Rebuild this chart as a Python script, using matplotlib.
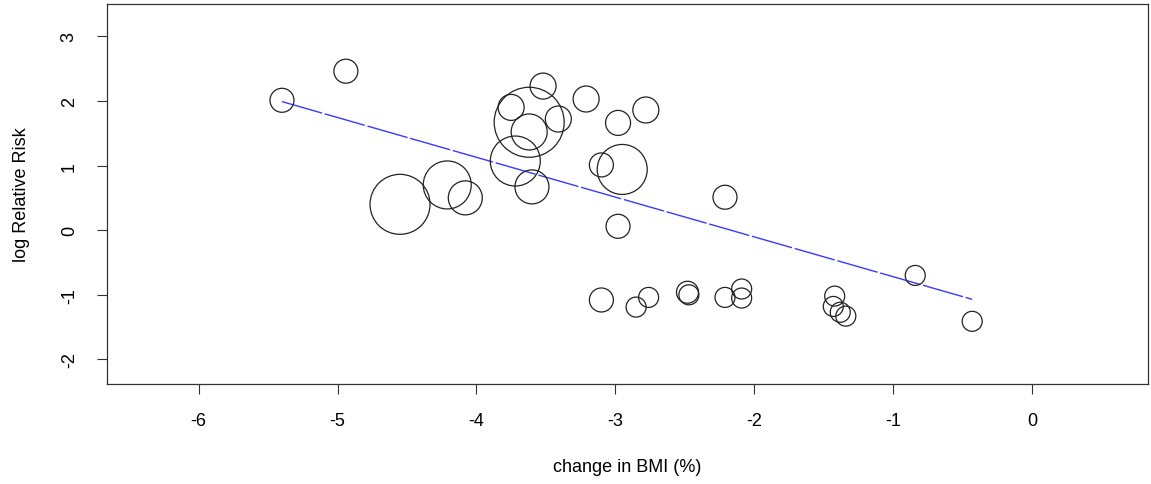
import matplotlib
matplotlib.use("Agg")
import matplotlib.pyplot as plt
import numpy as np

plt.rcParams['font.family'] = ['Liberation Sans', 'DejaVu Sans']
plt.rcParams['axes.unicode_minus'] = False

# study-level data: change in BMI (%), log relative risk, study weight (circle radius scale)
bmi_change = [-5.40, -4.94, -4.55, -4.21, -4.08, -3.75, -3.62, -3.62, -3.72, -3.52,
              -3.41, -3.60, -3.21, -2.98, -2.78, -3.10, -2.95, -2.98, -2.21,
              -3.10, -2.85, -2.76, -2.48, -2.47, -2.21, -2.09, -2.09,
              -1.42, -1.43, -1.38, -1.34, -0.84, -0.43]
log_rr = [2.01, 2.46, 0.40, 0.70, 0.50, 1.90, 1.67, 1.52, 1.07, 2.23,
          1.72, 0.67, 2.03, 1.66, 1.86, 1.01, 0.94, 0.06, 0.51,
          -1.08, -1.19, -1.04, -0.96, -1.00, -1.04, -0.91, -1.05,
          -1.02, -1.18, -1.27, -1.33, -0.70, -1.41]
weight = [12, 12, 30, 24, 17, 13, 35, 18, 25, 13,
          13, 17, 13, 12.5, 13, 12, 25, 12, 12,
          12, 10, 10, 11, 10, 10, 10, 10,
          10, 10, 10, 10, 10, 10]

# fitted meta-regression line endpoints
fit_x = [-5.40, -0.43]
fit_y = [1.99, -1.07]

xticks = [-6, -5, -4, -3, -2, -1, 0]
yticks = [-2, -1, 0, 1, 2, 3]

dpi = 100
fig = plt.figure(figsize=(11.51, 4.85), dpi=dpi)
ax = fig.add_axes([107/1151, 100/485, 1041/1151, 380/485])

w = np.array(weight, dtype=float)
sizes = (2 * w * 72 / dpi) ** 2
ax.scatter(bmi_change, log_rr, s=sizes, facecolors='none', edgecolors='#222222',
           linewidths=0.9, zorder=3)

ax.plot(fit_x, fit_y, color='#3a3aff', lw=1.0, dashes=(30, 2), zorder=2)

ax.set_xlim(-6.66, 0.836)
ax.set_ylim(-2.38, 3.50)
ax.set_xticks(xticks)
ax.set_yticks(yticks)
ax.set_xticklabels([str(t) for t in xticks])
ax.set_yticklabels([str(t) for t in yticks], rotation=90, va='center')
ax.tick_params(axis='both', direction='out', length=7, width=0.8, labelsize=13,
               color='#333333')
ax.tick_params(axis='x', pad=13)
ax.tick_params(axis='y', pad=14)
for sp in ax.spines.values():
    sp.set_linewidth(0.9)
    sp.set_color('#333333')

ax.set_xlabel('change in BMI (%)', fontsize=13, labelpad=21)
ax.set_ylabel('log Relative Risk', fontsize=13, labelpad=22)

fig.savefig('out.png', dpi=dpi)
